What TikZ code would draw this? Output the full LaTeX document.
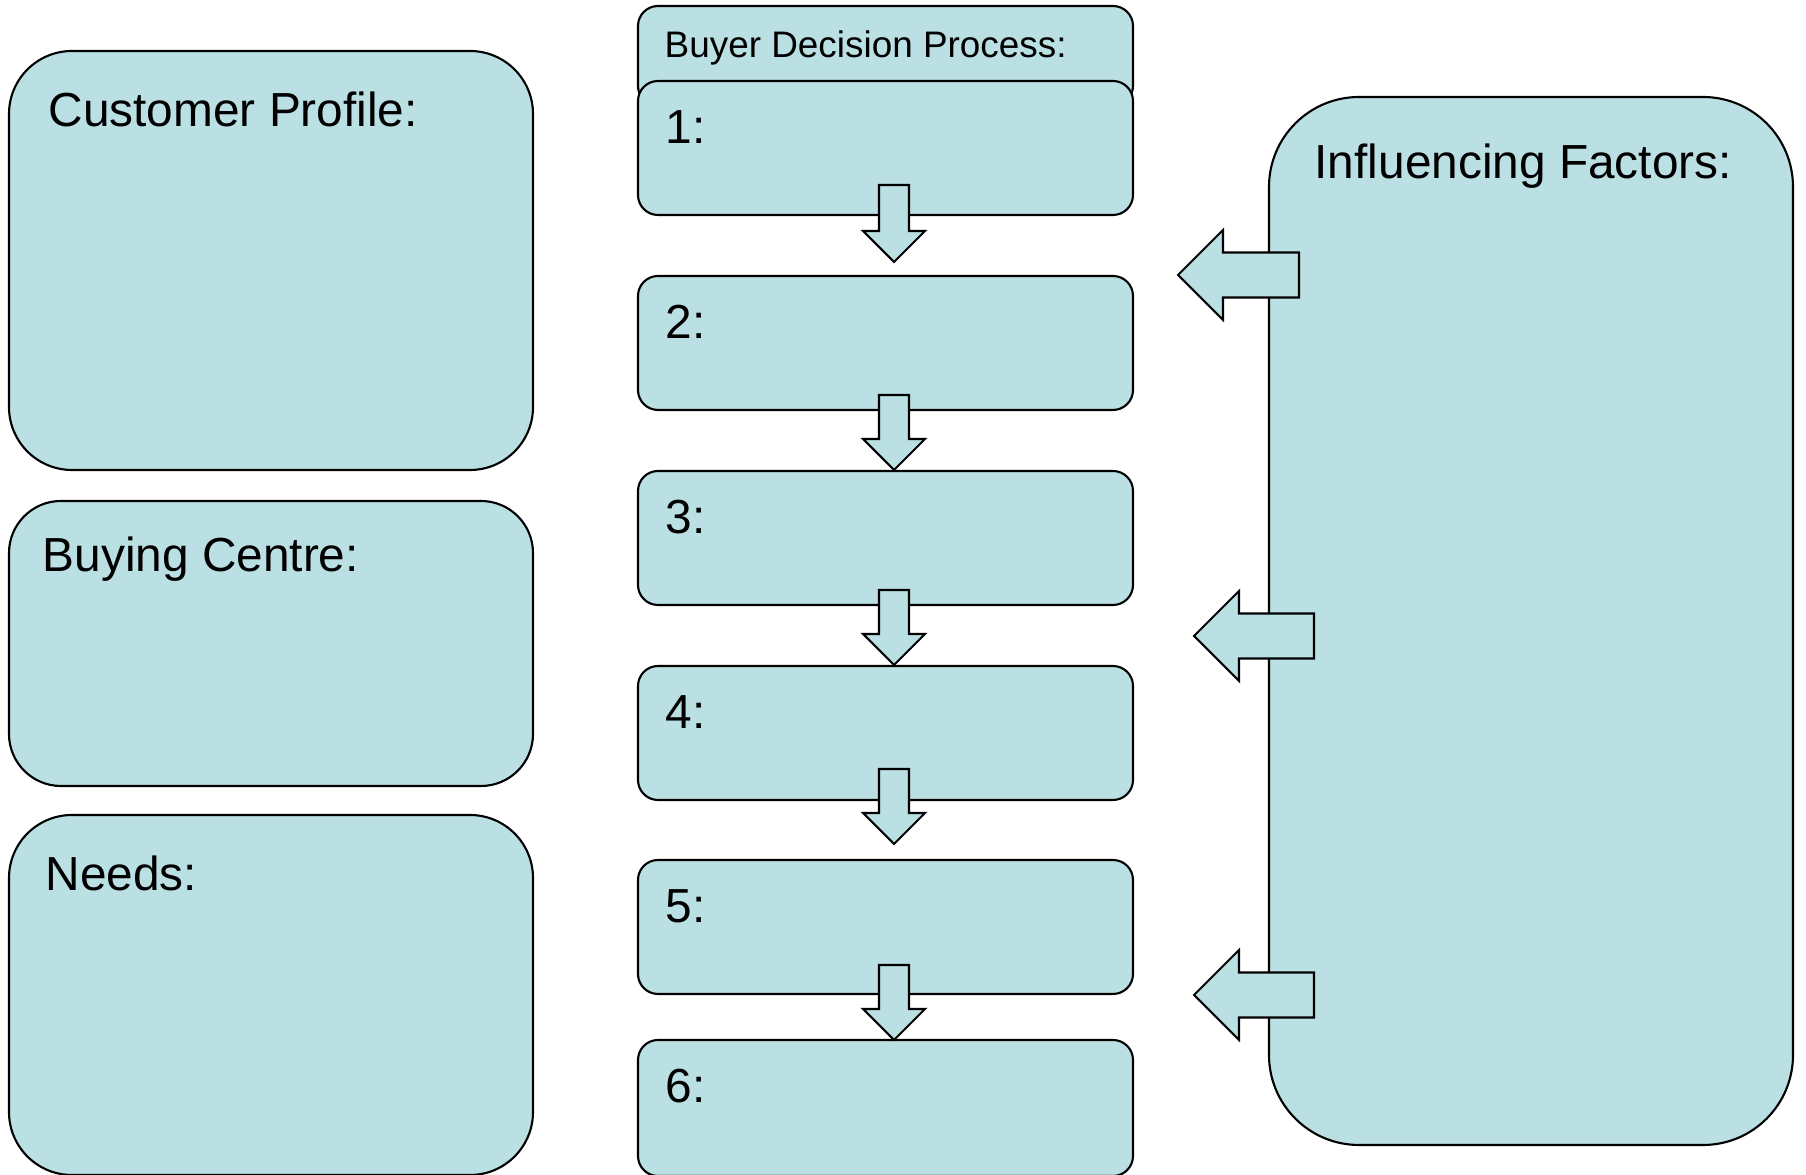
\documentclass[tikz,border=0pt]{standalone}
\usepackage{fontspec}
\setmainfont{Liberation Sans}
\definecolor{panelblue}{RGB}{186,224,227}

\begin{document}
\begin{tikzpicture}[
    panel/.style={draw, fill=panelblue, line width=0.6pt, inner sep=0pt, outer sep=0pt, anchor=north west},
    blockarrow/.style={draw, fill=panelblue, line width=0.6pt, line join=miter},
    lbl/.style={anchor=base west, inner sep=0pt, font=\fontsize{13.6}{16}\selectfont},
    smalllbl/.style={anchor=base west, inner sep=0pt, font=\fontsize{10.5}{13}\selectfont}
]
    \useasboundingbox (0,0) rectangle (18.06,11.75);

    % left column
    \node[panel, rounded corners=0.63cm, minimum width=5.24cm, minimum height=4.19cm] (profile) at (0.09,11.24) {};
    \node[panel, rounded corners=0.52cm, minimum width=5.24cm, minimum height=2.85cm] (centre) at (0.09,6.74) {};
    \node[panel, rounded corners=0.63cm, minimum width=5.24cm, minimum height=3.60cm] (needs) at (0.09,3.60) {};

    \node[lbl] (profiletxt) at (0.48,10.48) {Customer Profile:};
    \node[lbl] (centretxt) at (0.42,6.03) {Buying Centre:};
    \node[lbl] (needstxt) at (0.45,2.84) {Needs:};

    % middle column
    \node[panel, rounded corners=0.2cm, minimum width=4.95cm, minimum height=1.0cm] (process) at (6.38,11.69) {};
    \node[smalllbl] (processtxt) at (6.64,11.17) {Buyer Decision Process:};

    \node[panel, rounded corners=0.2cm, minimum width=4.95cm, minimum height=1.34cm] (s1) at (6.38,10.94) {};
    \node[panel, rounded corners=0.2cm, minimum width=4.95cm, minimum height=1.34cm] (s2) at (6.38,8.99) {};
    \node[panel, rounded corners=0.2cm, minimum width=4.95cm, minimum height=1.34cm] (s3) at (6.38,7.04) {};
    \node[panel, rounded corners=0.2cm, minimum width=4.95cm, minimum height=1.34cm] (s4) at (6.38,5.09) {};
    \node[panel, rounded corners=0.2cm, minimum width=4.95cm, minimum height=1.34cm] (s5) at (6.38,3.15) {};
    \node[panel, rounded corners=0.2cm, minimum width=4.95cm, minimum height=1.36cm] (s6) at (6.38,1.35) {};

    \node[lbl] (s1txt) at (6.65,10.31) {1:};
    \node[lbl] (s2txt) at (6.65,8.36) {2:};
    \node[lbl] (s3txt) at (6.65,6.41) {3:};
    \node[lbl] (s4txt) at (6.65,4.46) {4:};
    \node[lbl] (s5txt) at (6.65,2.52) {5:};
    \node[lbl] (s6txt) at (6.65,0.72) {6:};

    % arrows between the steps
    \draw[blockarrow] (8.79,9.90) -- ++(0.3,0) -- ++(0,-0.46) -- ++(0.16,0) -- ++(-0.31,-0.31) -- ++(-0.31,0.31) -- ++(0.16,0) -- cycle;
    \draw[blockarrow] (8.79,7.80) -- ++(0.3,0) -- ++(0,-0.44) -- ++(0.16,0) -- ++(-0.31,-0.31) -- ++(-0.31,0.31) -- ++(0.16,0) -- cycle;
    \draw[blockarrow] (8.79,5.85) -- ++(0.3,0) -- ++(0,-0.44) -- ++(0.16,0) -- ++(-0.31,-0.31) -- ++(-0.31,0.31) -- ++(0.16,0) -- cycle;
    \draw[blockarrow] (8.79,4.06) -- ++(0.3,0) -- ++(0,-0.44) -- ++(0.16,0) -- ++(-0.31,-0.31) -- ++(-0.31,0.31) -- ++(0.16,0) -- cycle;
    \draw[blockarrow] (8.79,2.10) -- ++(0.3,0) -- ++(0,-0.44) -- ++(0.16,0) -- ++(-0.31,-0.31) -- ++(-0.31,0.31) -- ++(0.16,0) -- cycle;

    % right column
    \node[panel, rounded corners=0.9cm, minimum width=5.24cm, minimum height=10.48cm] (factors) at (12.69,10.78) {};
    \node[lbl] (factorstxt) at (13.14,9.96) {Influencing Factors:};

    \draw[blockarrow] (12.99,9.225) -- ++(0,-0.45) -- ++(-0.76,0) -- ++(0,-0.225) -- ++(-0.45,0.45) -- ++(0.45,0.45) -- ++(0,-0.225) -- cycle;
    \draw[blockarrow] (13.14,5.615) -- ++(0,-0.45) -- ++(-0.75,0) -- ++(0,-0.225) -- ++(-0.45,0.45) -- ++(0.45,0.45) -- ++(0,-0.225) -- cycle;
    \draw[blockarrow] (13.14,2.025) -- ++(0,-0.45) -- ++(-0.75,0) -- ++(0,-0.225) -- ++(-0.45,0.45) -- ++(0.45,0.45) -- ++(0,-0.225) -- cycle;
\end{tikzpicture}
\end{document}
